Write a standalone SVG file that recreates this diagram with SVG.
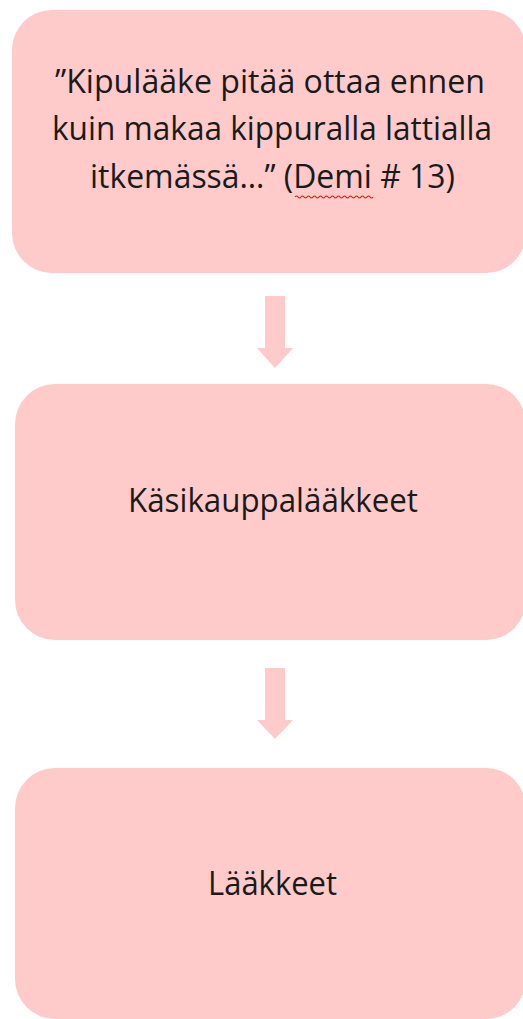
<svg xmlns="http://www.w3.org/2000/svg" width="523" height="1019" viewBox="0 0 523 1019">
<style>
.box{fill:#ffcaca}
.t{font-family:"Open Sans","Liberation Sans",sans-serif;font-size:32px;fill:#1a1a1a;text-anchor:middle}
.arr{fill:#ffcaca}
</style>
<rect width="523" height="1019" fill="#ffffff"/>
<g id="node1">
<rect class="box" x="12" y="10" width="514" height="263" rx="40" ry="40"/>
<text class="t" x="270" y="93" textLength="430" lengthAdjust="spacingAndGlyphs">”Kipulääke pitää ottaa ennen</text>
<text class="t" x="272" y="140" textLength="440" lengthAdjust="spacingAndGlyphs">kuin makaa kippuralla lattialla</text>
<text class="t" x="272.5" y="188" textLength="365" lengthAdjust="spacingAndGlyphs">itkemässä…” (Demi # 13)</text>
<path d="M295 197 q1.5 -2 3 0 t3 0 t3 0 t3 0 t3 0 t3 0 t3 0 t3 0 t3 0 t3 0 t3 0 t3 0 t3 0 t3 0 t3 0 t3 0 t3 0 t3 0 t3 0 t3 0 t3 0 t3 0 t3 0 t3 0 t3 0 t3 0" fill="none" stroke="#d02020" stroke-width="1.2"/>
</g>
<g id="node2">
<rect class="box" x="15" y="384" width="511" height="256" rx="40" ry="40"/>
<text class="t" x="273" y="512" textLength="290" lengthAdjust="spacingAndGlyphs">Käsikauppalääkkeet</text>
</g>
<g id="node3">
<rect class="box" x="15" y="768" width="511" height="251" rx="40" ry="40"/>
<text class="t" x="272.5" y="895" textLength="129" lengthAdjust="spacingAndGlyphs">Lääkkeet</text>
</g>
<g id="connectors">
<polygon class="arr" points="265,296 285,296 285,348 293,348 275,368 257,348 265,348"/>
<polygon class="arr" points="265,668 285,668 285,720 293,720 275,739 257,720 265,720"/>
</g>
</svg>
